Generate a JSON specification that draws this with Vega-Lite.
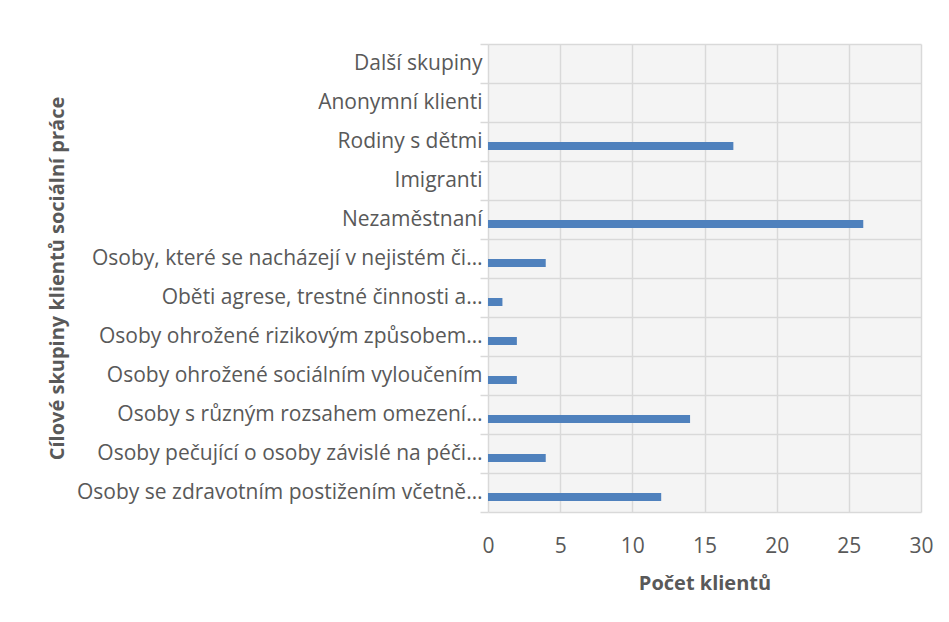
{
  "$schema": "https://vega.github.io/schema/vega-lite/v6.json",
  "autosize": {"type": "none"},
  "padding": {"left": 488, "top": 44, "right": 28, "bottom": 110},
  "width": 433,
  "height": 468,
  "background": "white",
  "config": {
    "font": "Open Sans",
    "view": {"fill": "#f4f4f4", "stroke": null}
  },
  "data": {
    "values": [
      {"skupina": "Další skupiny", "pocet": 0},
      {"skupina": "Anonymní klienti", "pocet": 0},
      {"skupina": "Rodiny s dětmi", "pocet": 17},
      {"skupina": "Imigranti", "pocet": 0},
      {"skupina": "Nezaměstnaní", "pocet": 26},
      {"skupina": "Osoby, které se nacházejí v nejistém či…", "pocet": 4},
      {"skupina": "Oběti agrese, trestné činnosti a…", "pocet": 1},
      {"skupina": "Osoby ohrožené rizikovým způsobem…", "pocet": 2},
      {"skupina": "Osoby ohrožené sociálním vyloučením", "pocet": 2},
      {"skupina": "Osoby s různým rozsahem omezení…", "pocet": 14},
      {"skupina": "Osoby pečující o osoby závislé na péči…", "pocet": 4},
      {"skupina": "Osoby se zdravotním postižením včetně…", "pocet": 12}
    ]
  },
  "mark": {"type": "bar", "color": "#4f81bd", "size": 8, "yOffset": 4.5},
  "encoding": {
    "y": {
      "field": "skupina",
      "type": "nominal",
      "sort": null,
      "scale": {"paddingInner": 0, "paddingOuter": 0},
      "axis": {
        "title": "Cílové skupiny klientů sociální práce",
        "titleFont": "Open Sans",
        "titleFontSize": 20,
        "titleFontWeight": "bold",
        "titleColor": "#595959",
        "titleX": -431,
        "titleY": 234,
        "titleBaseline": "middle",
        "titleAngle": -90,
        "labelFont": "Open Sans",
        "labelFontSize": 21,
        "labelColor": "#595959",
        "labelPadding": -2,
        "labelLimit": 500,
        "tickBand": "extent",
        "ticks": true,
        "tickSize": 8,
        "tickColor": "#d9d9d9",
        "tickWidth": 1.5,
        "grid": true,
        "gridColor": "#d9d9d9",
        "gridWidth": 1.5,
        "domain": false
      }
    },
    "x": {
      "field": "pocet",
      "type": "quantitative",
      "scale": {"domain": [0, 30], "nice": false},
      "axis": {
        "values": [0, 5, 10, 15, 20, 25, 30],
        "title": "Počet klientů",
        "titleFont": "Open Sans",
        "titleFontSize": 20,
        "titleFontWeight": "bold",
        "titleColor": "#595959",
        "titleY": 71,
        "titleBaseline": "middle",
        "labelFont": "Open Sans",
        "labelFontSize": 21,
        "labelColor": "#595959",
        "labelPadding": 23,
        "labelFlush": false,
        "ticks": false,
        "domain": false,
        "grid": true,
        "gridColor": "#d9d9d9",
        "gridWidth": 1.5
      }
    }
  }
}
